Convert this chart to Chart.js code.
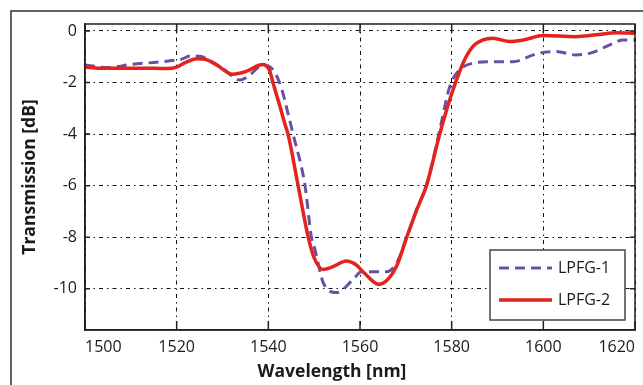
<!DOCTYPE html>
<html>
<head>
<meta charset="utf-8">
<script src="https://cdn.jsdelivr.net/npm/chart.js@4.4.1/dist/chart.umd.min.js"></script>
<style>
  html, body { margin: 0; padding: 0; background: #fff; }
  #wrap { width: 643px; height: 385px; position: relative; }
</style>
</head>
<body>
<div id="wrap"><canvas id="chart"></canvas></div>
<script>
// values
const wl1 = [1500, 1505, 1510, 1515, 1519, 1521, 1523, 1525, 1527, 1530, 1533.8, 1536, 1538, 1539.6, 1541.4, 1543, 1544.1, 1545.4, 1548, 1549.4, 1550.2, 1552, 1554.9, 1558.5, 1560.3, 1565.8, 1568, 1570.2, 1572.4, 1574.5, 1577.2, 1579.6, 1581.4, 1584.6, 1589, 1593.4, 1597.8, 1600, 1602.8, 1607.1, 1610.8, 1614.5, 1617.4, 1620];
const t1 = [-1.32, -1.42, -1.30, -1.22, -1.15, -1.10, -0.97, -0.98, -1.12, -1.45, -1.90, -1.70, -1.40, -1.36, -1.60, -2.30, -3.06, -4.0, -6.0, -8.0, -8.5, -9.77, -10.15, -9.64, -9.34, -9.34, -9.0, -8.0, -6.9, -6.0, -4.0, -2.15, -1.57, -1.25, -1.19, -1.19, -0.93, -0.83, -0.80, -0.93, -0.83, -0.54, -0.35, -0.35];

const wl2 = [1500, 1503, 1510, 1515, 1518, 1520, 1522, 1524.4, 1526.6, 1529, 1532.2, 1535, 1538.1, 1539, 1540.3, 1541, 1542.5, 1543.6, 1544.3, 1546.5, 1548.7, 1550, 1552, 1554, 1557, 1559, 1561, 1564.1, 1566, 1568, 1570.2, 1572.4, 1574.5, 1577.4, 1579, 1580.3, 1582.5, 1584.6, 1586.8, 1589, 1592.7, 1595.6, 1600, 1607, 1611.5, 1615.9, 1620];
const t2 = [-1.40, -1.45, -1.45, -1.45, -1.46, -1.40, -1.22, -1.08, -1.12, -1.35, -1.68, -1.58, -1.32, -1.30, -1.55, -2.0, -2.9, -3.6, -4.0, -6.0, -8.0, -8.8, -9.25, -9.15, -8.92, -9.05, -9.4, -9.83, -9.65, -9.12, -8.0, -6.93, -6.0, -4.0, -3.0, -2.28, -1.24, -0.61, -0.35, -0.28, -0.41, -0.35, -0.18, -0.22, -0.15, -0.07, -0.09];

const xTicks = [1500, 1520, 1540, 1560, 1580, 1600, 1620];
const yTicks = [0, -2, -4, -6, -8, -10];
const seriesNames = ['LPFG-1', 'LPFG-2'];

const toPoints = (xs, ys) => xs.map((x, i) => ({ x: x, y: ys[i] }));
const FONT = "'Open Sans', 'DejaVu Sans', sans-serif";
const INK = '#1a1a1a';

const framePlugin = {
  id: 'frame',
  afterDraw(chart) {
    const { ctx, chartArea: a, scales } = chart;
    ctx.save();
    // outer figure frame
    ctx.strokeStyle = '#333';
    ctx.lineWidth = 1.5;
    ctx.strokeRect(11, 11, 700, 500);

    // plot box and inward ticks
    ctx.strokeStyle = '#222';
    ctx.lineWidth = 1.5;
    ctx.strokeRect(a.left, a.top, a.right - a.left, a.bottom - a.top);
    ctx.beginPath();
    xTicks.forEach(v => {
      const x = scales.x.getPixelForValue(v);
      ctx.moveTo(x, a.bottom); ctx.lineTo(x, a.bottom - 9);
      ctx.moveTo(x, a.top); ctx.lineTo(x, a.top + 9);
    });
    yTicks.forEach(v => {
      const y = scales.y.getPixelForValue(v);
      ctx.moveTo(a.left, y); ctx.lineTo(a.left + 5, y);
      ctx.moveTo(a.right, y); ctx.lineTo(a.right - 5, y);
    });
    ctx.stroke();

    // legend box in lower right corner
    const lw = 135, lh = 70;
    const lx = a.right - 10 - lw, ly = a.bottom - 10 - lh;
    ctx.fillStyle = '#fff';
    ctx.fillRect(lx, ly, lw, lh);
    ctx.strokeStyle = '#444';
    ctx.lineWidth = 1.5;
    ctx.strokeRect(lx, ly, lw, lh);
    chart.data.datasets.forEach((ds, i) => {
      const yy = ly + 18 + i * 32;
      ctx.beginPath();
      ctx.setLineDash(ds.borderDash || []);
      ctx.strokeStyle = ds.borderColor;
      ctx.lineWidth = ds.borderWidth;
      ctx.moveTo(lx + 9, yy);
      ctx.lineTo(lx + 62, yy);
      ctx.stroke();
      ctx.setLineDash([]);
      ctx.fillStyle = INK;
      ctx.font = '16px ' + FONT;
      ctx.textAlign = 'left';
      ctx.textBaseline = 'middle';
      ctx.fillText(ds.label, lx + 68, yy);
    });

    // x axis title
    ctx.fillStyle = INK;
    ctx.font = 'bold 17.5px ' + FONT;
    ctx.textAlign = 'center';
    ctx.textBaseline = 'middle';
    ctx.fillText('Wavelength [nm]', (a.left + a.right) / 2 - 28, 372);
    ctx.restore();
  }
};

const gridStyle = { color: '#111', lineWidth: 1, drawTicks: false };
const borderStyle = { display: true, color: '#222', width: 1.5, dash: [4, 4, 1.5, 4] };

new Chart(document.getElementById('chart').getContext('2d'), {
  type: 'line',
  data: {
    datasets: [{
      label: seriesNames[0],
      data: toPoints(wl1, t1),
      borderColor: '#6a4fa5',
      borderWidth: 3,
      borderDash: [10, 6],
      pointRadius: 0,
      cubicInterpolationMode: 'monotone',
      fill: false,
      order: 1
    }, {
      label: seriesNames[1],
      data: toPoints(wl2, t2),
      borderColor: '#e3231c',
      borderWidth: 3.5,
      pointRadius: 0,
      cubicInterpolationMode: 'monotone',
      fill: false,
      order: 0
    }]
  },
  options: {
    responsive: true,
    maintainAspectRatio: false,
    animation: false,
    layout: { padding: { left: 0, right: 8, top: 24, bottom: 0 } },
    plugins: { legend: { display: false }, tooltip: { enabled: false } },
    scales: {
      x: {
        type: 'linear',
        min: 1500,
        max: 1620,
        grid: gridStyle,
        border: borderStyle,
        afterBuildTicks: scale => { scale.ticks = xTicks.map(v => ({ value: v })); },
        afterFit: scale => { scale.height = 55; },
        ticks: {
          align: 'inner',
          padding: 8,
          color: INK,
          font: { family: FONT, size: 16 },
          callback: v => String(v)
        }
      },
      y: {
        min: -11.6,
        max: 0.27,
        grid: gridStyle,
        border: borderStyle,
        afterBuildTicks: scale => { scale.ticks = yTicks.map(v => ({ value: v })); },
        afterFit: scale => { scale.width = 85; },
        ticks: {
          padding: 8,
          color: INK,
          font: { family: FONT, size: 16 },
          callback: v => String(v)
        },
        title: {
          display: true,
          text: 'Transmission [dB]',
          color: INK,
          font: { family: FONT, size: 17.5, weight: 'bold' },
          padding: { top: 20, bottom: 0 }
        }
      }
    }
  },
  plugins: [framePlugin]
});
</script>
</body>
</html>
